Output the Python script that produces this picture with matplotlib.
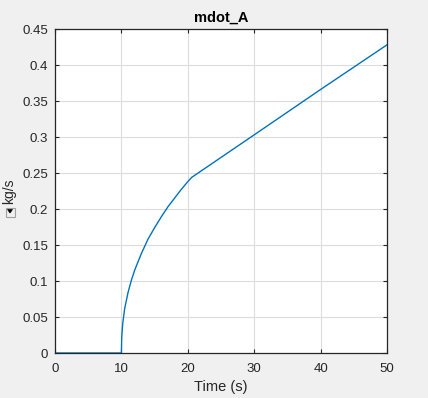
import numpy as np
import matplotlib
matplotlib.use("Agg")
import matplotlib.pyplot as plt
import matplotlib.patches as mpatches

plt.rcParams['font.family'] = ['Liberation Sans', 'DejaVu Sans']

# mdot_A, time in s, flow in kg/s
time_s = [0, 10, 10.05, 10.2, 10.5, 11, 11.5, 12, 13, 14, 15, 16, 17, 18,
          19, 20, 20.6, 30, 40, 50]
mdot_a = [0, 0, 0.022, 0.041, 0.062, 0.084, 0.101, 0.115, 0.138, 0.158,
          0.174, 0.189, 0.203, 0.215, 0.227, 0.238, 0.244, 0.303, 0.366, 0.428]

x_ticks = [0, 10, 20, 30, 40, 50]
y_ticks = [0, 0.05, 0.1, 0.15, 0.2, 0.25, 0.3, 0.35, 0.4, 0.45]
y_tick_labels = ['0', '0.05', '0.1', '0.15', '0.2', '0.25', '0.3', '0.35', '0.4', '0.45']

W, H = 428, 398
fig = plt.figure(figsize=(W / 100, H / 100), dpi=100, facecolor='#f0f0f0')
ax = fig.add_axes([55 / W, 1 - 353 / H, (387 - 55) / W, (353 - 29) / H])
ax.set_facecolor('white')

ax.plot(time_s, mdot_a, color='#0072BD', lw=1.0)

ax.set_xlim(0, 50)
ax.set_ylim(0, 0.45)
ax.set_xticks(x_ticks)
ax.set_yticks(y_ticks)
ax.set_yticklabels(y_tick_labels)
ax.grid(True, color='#dcdcdc', lw=0.8)
ax.set_axisbelow(True)

ax.tick_params(direction='in', length=3, width=0.8, colors='#262626',
               labelsize=9.5, top=True, right=True)
ax.tick_params(axis='x', pad=7)
ax.tick_params(axis='y', pad=5)
for sp in ax.spines.values():
    sp.set_color('#262626')
    sp.set_linewidth(0.9)

ax.set_title('mdot_A', fontsize=10.5, fontweight='bold', color='black', pad=5)
ax.set_xlabel('Time (s)', fontsize=10.5, color='#262626', labelpad=4)

# y label, with the little dropdown icon drawn beneath it
fig.text(9 / W, 1 - 191 / H, 'kg/s', rotation=90, fontsize=10, color='#262626',
         ha='center', va='center')

def px(x, y):
    return (x / W, 1 - y / H)

box = mpatches.Rectangle(px(5.5, 216.5), 9.5 / W, 9 / H, transform=fig.transFigure,
                         fc='#f0f0f0', ec='#a0a0a0', lw=0.8)
tri = mpatches.Polygon([px(7.5, 209.5), px(12.5, 209.5), px(10, 213)], closed=True,
                       transform=fig.transFigure, fc='black', ec='black', lw=0.5)
fig.add_artist(box)
fig.add_artist(tri)

fig.savefig('out.png', dpi=100, facecolor=fig.get_facecolor())
